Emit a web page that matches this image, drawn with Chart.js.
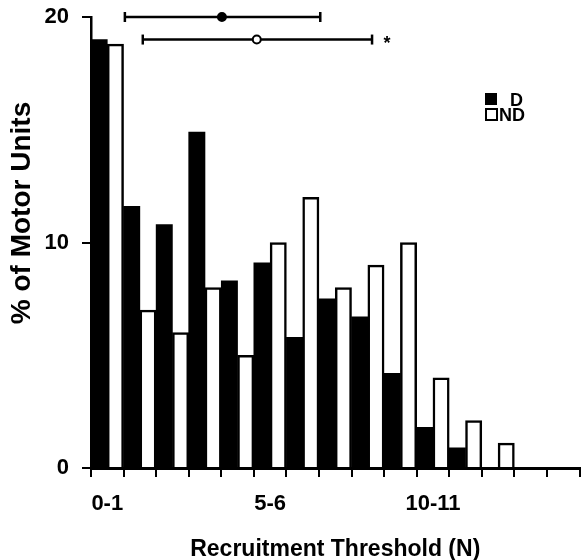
<!DOCTYPE html>
<html>
<head>
<meta charset="utf-8">
<script src="https://cdn.jsdelivr.net/npm/chart.js@4.4.0/dist/chart.umd.min.js"></script>
<style>
  html, body { margin: 0; padding: 0; background: #fff; }
  #wrap { width: 587px; height: 560px; }
</style>
</head>
<body>
<div id="wrap"><canvas id="chart" width="587" height="560"></canvas></div>
<script>
// Recruitment threshold bins (N)
const categories = ["0-1", "1-2", "2-3", "3-4", "4-5", "5-6", "6-7", "7-8",
  "8-9", "9-10", "10-11", "11-12", "12-13", "13-14", "14-15"];
const shownLabels = ["0-1", "5-6", "10-11"];

// % of motor units per bin
const dominant = [19.0, 11.6, 10.8, 14.9, 8.3, 9.1, 5.8, 7.5, 6.7, 4.2, 1.8, 0.9, 0, 0, 0];
const nonDominant = [18.8, 7.0, 6.0, 8.0, 5.0, 10.0, 12.0, 8.0, 9.0, 10.0, 4.0, 2.1, 1.1, 0, 0];

// mean +/- SD of recruitment threshold (N): [low, mean, high]
const thresholdD = [1.04, 4.02, 7.04];
const thresholdND = [1.59, 5.09, 8.63];
const barLevelD = 20;
const barLevelND = 19;

const FONT = "'Liberation Sans', Arial, Helvetica, sans-serif";

// error bars sit on the same category axis; bin k spans k-0.5 .. k+0.5,
// so a threshold of N newtons is category value N - 0.5
function errorBar(range, level, meanFill) {
  return {
    type: "line",
    parsing: false,
    data: range.map(v => ({ x: v - 0.5, y: level })),
    borderColor: "#000",
    borderWidth: 2.5,
    pointStyle: ["line", "circle", "line"],
    rotation: [90, 0, 90],
    pointRadius: [5, 4, 5],
    pointBackgroundColor: ["#000", meanFill, "#000"],
    pointBorderColor: "#000",
    pointBorderWidth: [2.5, 2, 2.5],
    clip: false
  };
}

// legend, asterisk and y title drawn on top
const extras = {
  id: "extras",
  afterDraw(chart) {
    const ctx = chart.ctx;
    ctx.save();
    ctx.fillStyle = "#000";
    ctx.strokeStyle = "#000";

    // legend
    ctx.fillRect(485, 93, 12, 12);
    ctx.lineWidth = 2;
    ctx.strokeRect(486, 109, 11, 11);
    ctx.font = "bold 18px " + FONT;
    ctx.textBaseline = "alphabetic";
    ctx.textAlign = "left";
    ctx.fillText("D", 510, 106);
    ctx.fillText("ND", 499, 121);

    // significance mark after the ND bar
    const nd = chart.getDatasetMeta(3).data;
    const end = nd[nd.length - 1];
    ctx.textAlign = "center";
    ctx.fillText("*", end.x + 15, end.y + 9);

    // y title
    ctx.translate(22, 213);
    ctx.rotate(-Math.PI / 2);
    ctx.font = "bold 28px " + FONT;
    ctx.textBaseline = "middle";
    ctx.fillText("% of Motor Units", 0, 0);
    ctx.restore();
  }
};

new Chart(document.getElementById("chart"), {
  type: "bar",
  data: {
    labels: categories,
    datasets: [
      {
        label: "D",
        data: dominant,
        backgroundColor: "#000",
        borderWidth: 0,
        barPercentage: 1,
        categoryPercentage: 1
      },
      {
        label: "ND",
        data: nonDominant,
        backgroundColor: "#fff",
        borderColor: "#000",
        borderWidth: { top: 2.5, left: 2.5, right: 2.5, bottom: 0 },
        borderSkipped: false,
        barPercentage: 1,
        categoryPercentage: 1
      },
      errorBar(thresholdD, barLevelD, "#000"),
      errorBar(thresholdND, barLevelND, "#fff")
    ]
  },
  options: {
    responsive: false,
    animation: false,
    devicePixelRatio: 1,
    layout: { padding: { top: 17, right: 4, left: 0, bottom: 0 } },
    plugins: {
      legend: { display: false },
      tooltip: { enabled: false }
    },
    scales: {
      x: {
        type: "category",
        offset: true,
        grid: {
          offset: true,
          drawOnChartArea: false,
          drawTicks: true,
          tickLength: 9,
          color: "#000",
          lineWidth: 2
        },
        border: { color: "#000", width: 3 },
        ticks: {
          autoSkip: false,
          maxRotation: 0,
          color: "#000",
          padding: 14,
          font: { family: FONT, size: 22, weight: "bold" },
          callback: (v, i) => shownLabels.includes(categories[i]) ? categories[i] : ""
        },
        title: {
          display: true,
          text: "Recruitment Threshold (N)",
          color: "#000",
          font: { family: FONT, size: 23, weight: "bold" },
          padding: { top: 0, bottom: -3 }
        },
        afterFit: s => { s.height = 92; s.paddingLeft = 0; s.paddingRight = 0; }
      },
      y: {
        min: 0,
        max: 20,
        grid: {
          drawOnChartArea: false,
          drawTicks: true,
          tickLength: 9,
          color: "#000",
          lineWidth: 2
        },
        border: { color: "#000", width: 2.5 },
        ticks: {
          stepSize: 10,
          color: "#000",
          padding: 13,
          font: { family: FONT, size: 22, weight: "bold" }
        },
        afterFit: s => { s.width = 91; s.paddingTop = 0; s.paddingBottom = 0; }
      }
    }
  },
  plugins: [extras]
});
</script>
</body>
</html>
